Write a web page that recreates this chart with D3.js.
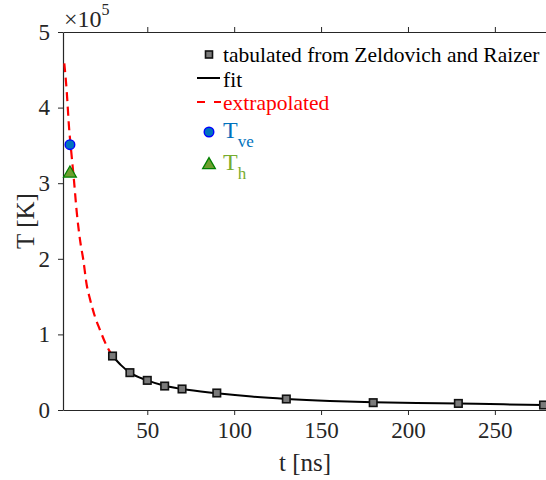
<!DOCTYPE html>
<html>
<head>
<meta charset="utf-8">
<script src="https://cdn.jsdelivr.net/npm/d3@7"></script>
<style>
  html, body { margin: 0; padding: 0; background: #fff; }
  svg { display: block; }
  svg text { font-family: "Liberation Serif" !important; }
</style>
</head>
<body>
<svg id="chart" width="546" height="480" font-family="Liberation Serif"></svg>
<script>
// ---- data ----
const tabT = [30, 40, 50, 60, 70, 90, 130, 180, 229, 278];
const tabK = [71400, 49400, 39200, 31700, 27800, 22500, 14550, 9700, 8700, 6600];

const fitT = [30, 35, 40, 50, 60, 70, 90, 110, 130, 155, 180, 205, 229, 255, 278, 281];
const fitK = [71400, 59000, 49400, 39200, 32000, 27700, 22200, 17800, 14700, 12000, 10300, 9300, 8500, 7500, 6700, 6600];

const extT = [2.25, 3.6, 4.95, 6.4, 7.8, 9.4, 11.3, 13.2, 15.1, 17.0, 19.9, 22.8, 26.6, 30];
const extK = [458600, 423000, 374700, 338000, 304000, 262000, 224900, 198400, 166000, 147000, 123400, 105800, 85000, 71400];

const veT = [5.5], veK = [351000];
const hT = [5.5], hK = [313000];

const xTicks = [50, 100, 150, 200, 250];
const yTicks = [0, 1, 2, 3, 4, 5];  // in units of 1e5

const legendLabels = ["tabulated from Zeldovich and Raizer", "fit", "extrapolated", "T", "T"];
const legendSubs = ["", "", "", "ve", "h"];

// ---- layout ----
const FONT = "Liberation Serif";
const svg = d3.select("#chart");
const L = 63, R = 547, T = 32, B = 410;
const x = d3.scaleLinear().domain([1.5, 280]).range([L, R]);
const y = d3.scaleLinear().domain([0, 500000]).range([B, T]);
const axisColor = "#262626";

const g = svg.append("g").attr("font-family", FONT);

function setFont(sel) { return sel.attr("font-family", FONT).style("font-family", FONT); }

// axes
const xAxis = d3.axisBottom(x).tickValues(xTicks).tickSize(5).tickSizeOuter(0).tickPadding(7);
const xAxisTop = d3.axisTop(x).tickValues(xTicks).tickSize(5).tickSizeOuter(0).tickFormat("");
const yAxis = d3.axisLeft(y).tickValues(yTicks.map(v => v * 1e5)).tickSize(5).tickSizeOuter(0)
  .tickPadding(8).tickFormat(d => d / 1e5);

function styleAxis(sel) {
  sel.attr("font-family", FONT);
  sel.select(".domain").attr("stroke", axisColor).attr("stroke-width", 1.2);
  sel.selectAll(".tick line").attr("stroke", axisColor).attr("stroke-width", 1);
  setFont(sel.selectAll(".tick text").attr("fill", axisColor).attr("font-size", 23));
}
g.append("g").attr("transform", `translate(0,${B})`).call(xAxis).call(styleAxis);
g.append("g").attr("transform", `translate(0,${T})`).call(xAxisTop).call(styleAxis);
g.append("g").attr("transform", `translate(${L},0)`).call(yAxis).call(styleAxis);

// multiplier
const mult = setFont(g.append("text").attr("x", 64).attr("y", 27).attr("fill", axisColor)
  .attr("font-size", 24));
mult.append("tspan").text("×10");
mult.append("tspan").attr("font-size", 16).attr("dy", -12).text("5");

// axis labels
setFont(g.append("text").attr("x", (L + R) / 2).attr("y", 471).attr("text-anchor", "middle")
  .attr("fill", axisColor).attr("font-size", 25)).text("t [ns]");
setFont(g.append("text").attr("transform", `translate(34,${(T + B) / 2}) rotate(-90)`)
  .attr("text-anchor", "middle").attr("fill", axisColor).attr("font-size", 25)).text("T [K]");

// curves
const lineGen = d3.line().x(d => x(d[0])).y(d => y(d[1])).curve(d3.curveMonotoneX);
g.append("path").datum(d3.zip(extT, extK)).attr("d", lineGen)
  .attr("fill", "none").attr("stroke", "#ff0000").attr("stroke-width", 2.2)
  .attr("stroke-dasharray", "9,5.5");
g.append("path").datum(d3.zip(fitT, fitK)).attr("d", lineGen)
  .attr("fill", "none").attr("stroke", "#000").attr("stroke-width", 2);

// squares
const sq = 7.5;
g.selectAll("rect.tab").data(d3.zip(tabT, tabK)).join("rect").attr("class", "tab")
  .attr("x", d => x(d[0]) - sq / 2).attr("y", d => y(d[1]) - sq / 2)
  .attr("width", sq).attr("height", sq)
  .attr("fill", "#7a7a7a").attr("stroke", "#111").attr("stroke-width", 1.6);

// T_ve circle
g.selectAll("circle.ve").data(d3.zip(veT, veK)).join("circle").attr("class", "ve")
  .attr("cx", d => x(d[0])).attr("cy", d => y(d[1])).attr("r", 4.8)
  .attr("fill", "#0072BD").attr("stroke", "#0000ff").attr("stroke-width", 1.4);

// T_h triangle
const tri = d3.symbol().type(d3.symbolTriangle).size(70);
g.selectAll("path.h").data(d3.zip(hT, hK)).join("path").attr("class", "h")
  .attr("d", tri).attr("transform", d => `translate(${x(d[0])},${y(d[1])})`)
  .attr("fill", "#6E9E2E").attr("stroke", "#008000").attr("stroke-width", 1.3);

// legend
const lg = g.append("g");
const lx = 223, symX = 209;
const rows = [55, 80, 103, 131, 163];
lg.append("rect").attr("x", symX - 3.5).attr("y", rows[0] - 4).attr("width", 7).attr("height", 7)
  .attr("fill", "#7a7a7a").attr("stroke", "#111").attr("stroke-width", 1.6);
lg.append("line").attr("x1", 197).attr("x2", 220).attr("y1", rows[1] - 2).attr("y2", rows[1] - 2)
  .attr("stroke", "#000").attr("stroke-width", 2);
lg.append("line").attr("x1", 197).attr("x2", 221).attr("y1", rows[2] - 1).attr("y2", rows[2] - 1)
  .attr("stroke", "#ff0000").attr("stroke-width", 2.2).attr("stroke-dasharray", "8,9");
lg.append("circle").attr("cx", symX).attr("cy", rows[3] + 1).attr("r", 4.8)
  .attr("fill", "#0072BD").attr("stroke", "#0000ff").attr("stroke-width", 1.4);
lg.append("path").attr("d", tri).attr("transform", `translate(${symX},${rows[4] + 2})`)
  .attr("fill", "#6E9E2E").attr("stroke", "#008000").attr("stroke-width", 1.3);

const legColors = ["#000", "#000", "#ff0000", "#0072BD", "#77AC30"];
legendLabels.forEach((lab, i) => {
  const t = setFont(lg.append("text").attr("x", lx).attr("y", rows[i] + 7)
    .attr("fill", legColors[i]).attr("font-size", i >= 3 ? 24 : 21.5));
  t.append("tspan").text(lab);
  if (legendSubs[i]) t.append("tspan").attr("font-size", 17).attr("dy", 9).text(legendSubs[i]);
});
</script>
</body>
</html>
